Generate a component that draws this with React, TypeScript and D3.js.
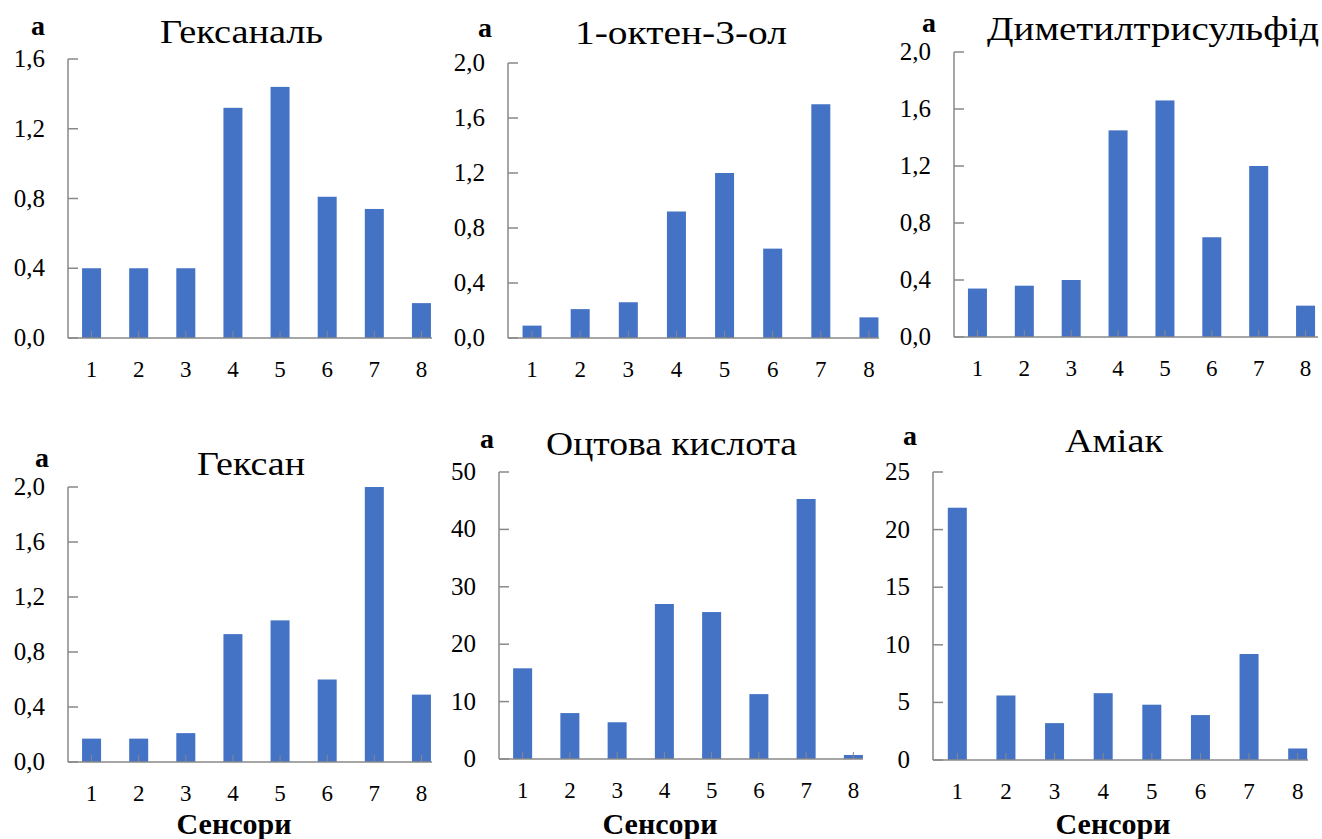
import React from 'react';
import * as d3 from 'd3';

// sensor numbers on the x axis
const sensors = ['1', '2', '3', '4', '5', '6', '7', '8'];

// response values
const hexanal = [0.4, 0.4, 0.4, 1.32, 1.44, 0.81, 0.74, 0.2];
const octenol = [0.09, 0.21, 0.26, 0.92, 1.2, 0.65, 1.7, 0.15];
const dimethylTrisulfide = [0.34, 0.36, 0.4, 1.45, 1.66, 0.7, 1.2, 0.22];
const hexane = [0.17, 0.17, 0.21, 0.93, 1.03, 0.6, 2.0, 0.49];
const aceticAcid = [15.8, 8.0, 6.4, 27.0, 25.6, 11.3, 45.3, 0.7];
const ammonia = [21.9, 5.6, 3.2, 5.8, 4.8, 3.9, 9.2, 1.0];

// y tick values
const ticks16 = [0, 0.4, 0.8, 1.2, 1.6];
const ticks20 = [0, 0.4, 0.8, 1.2, 1.6, 2.0];
const ticks50 = [0, 10, 20, 30, 40, 50];
const ticks25 = [0, 5, 10, 15, 20, 25];

const titles = ['Гексаналь', '1-октен-3-ол', 'Диметилтрисульфід', 'Гексан', 'Оцтова кислота', 'Аміак'];
const panelLetter = 'а';
const xTitle = 'Сенсори';

const BAR = '#4472C4';
const AXIS = '#898989';
const FONT = '"Liberation Serif", "Times New Roman", serif';

const fmtDec = (v: number) => d3.format('.1f')(v).replace('.', ',');
const fmtInt = (v: number) => d3.format('d')(v);

type PanelProps = {
  id: string;
  values: number[];
  ticks: number[];
  fmt: (v: number) => string;
  title: string;
  x0: number;
  bandW: number;
  axisEnd: number;
  yTop: number;
  yBase: number;
  titleX: number;
  titleY: number;
  titleW: number;
  letterX: number;
  letterY: number;
  showXTitle?: boolean;
  xTitleX?: number;
  clipY?: number;
};

const Panel = (p: PanelProps) => {
  const x = d3.scaleBand<string>().domain(sensors).range([p.x0, p.x0 + p.bandW]).paddingInner(0.6).paddingOuter(0.3);
  const y = d3.scaleLinear().domain([0, p.ticks[p.ticks.length - 1]]).range([p.yBase, p.yTop]);
  const bw = 19;

  return (
    <g clipPath={p.clipY ? `url(#row-${p.id})` : undefined}>
      <defs>
        <clipPath id={`bars-${p.id}`}>
          <rect x={p.x0} y={0} width={p.axisEnd - p.x0} height={839} />
        </clipPath>
        {p.clipY ? (
          <clipPath id={`row-${p.id}`}>
            <rect x={0} y={0} width={1322} height={p.clipY} />
          </clipPath>
        ) : null}
      </defs>

      <text x={p.letterX} y={p.letterY} fontFamily={FONT} fontWeight="bold" fontSize={28} fill="#000">
        {panelLetter}
      </text>
      <text
        x={p.titleX}
        y={p.titleY}
        fontFamily={FONT}
        fontSize={34}
        textLength={p.titleW}
        lengthAdjust="spacingAndGlyphs"
        fill="#000"
      >
        {p.title}
      </text>

      <g clipPath={`url(#bars-${p.id})`}>
        {p.values.map((v, i) => {
          const cx = (x(sensors[i]) as number) + x.bandwidth() / 2;
          return <rect key={i} x={cx - bw / 2} y={y(v)} width={bw} height={p.yBase - y(v)} fill={BAR} />;
        })}
      </g>

      {/* y axis with inside ticks */}
      <line x1={p.x0} x2={p.x0} y1={p.yTop} y2={p.yBase} stroke={AXIS} strokeWidth={1.5} />
      {p.ticks.map((t) => (
        <g key={t}>
          <line x1={p.x0} x2={p.x0 + 10} y1={y(t)} y2={y(t)} stroke={AXIS} strokeWidth={1.5} />
          <text x={p.x0 - 23} y={y(t) + 8} textAnchor="end" fontFamily={FONT} fontSize={25} fill="#000">
            {p.fmt(t)}
          </text>
        </g>
      ))}

      {/* x axis */}
      <line x1={p.x0} x2={p.axisEnd} y1={p.yBase} y2={p.yBase} stroke={AXIS} strokeWidth={1.5} />
      {sensors.map((s) => {
        const cx = (x(s) as number) + x.bandwidth() / 2;
        return (
          <g key={s}>
            {cx < p.axisEnd ? (
              <line x1={cx} x2={cx} y1={p.yBase} y2={p.yBase - 7} stroke={AXIS} strokeWidth={1} />
            ) : null}
            <text x={cx} y={p.yBase + 39} textAnchor="middle" fontFamily={FONT} fontSize={23} fill="#000">
              {s}
            </text>
          </g>
        );
      })}

      {p.showXTitle ? (
        <text x={p.xTitleX} y={834} textAnchor="middle" fontFamily={FONT} fontWeight="bold" fontSize={30} fill="#000">
          {xTitle}
        </text>
      ) : null}
    </g>
  );
};

export default function App() {
  return (
    <svg width={1322} height={839} style={{ position: 'absolute', left: 0, top: 0, background: '#fff' }}>
      <rect width={1322} height={839} fill="#fff" />
      <Panel
        id="p1"
        values={hexanal}
        ticks={ticks16}
        fmt={fmtDec}
        title={titles[0]}
        x0={68}
        bandW={377}
        axisEnd={432}
        yTop={59}
        yBase={338}
        titleX={160}
        titleY={43}
        titleW={163}
        letterX={31}
        letterY={35}
        clipY={377}
      />
      <Panel
        id="p2"
        values={octenol}
        ticks={ticks20}
        fmt={fmtDec}
        title={titles[1]}
        x0={508}
        bandW={385}
        axisEnd={879}
        yTop={63}
        yBase={338}
        titleX={575}
        titleY={44}
        titleW={212}
        letterX={478}
        letterY={37}
        clipY={377}
      />
      <Panel
        id="p3"
        values={dimethylTrisulfide}
        ticks={ticks20}
        fmt={fmtDec}
        title={titles[2]}
        x0={954}
        bandW={375}
        axisEnd={1318}
        yTop={52}
        yBase={337}
        titleX={987}
        titleY={40}
        titleW={332}
        letterX={922}
        letterY={32}
        clipY={377}
      />
      <Panel
        id="p4"
        values={hexane}
        ticks={ticks20}
        fmt={fmtDec}
        title={titles[3]}
        x0={68}
        bandW={377}
        axisEnd={432}
        yTop={487}
        yBase={762}
        titleX={197}
        titleY={475}
        titleW={108}
        letterX={35}
        letterY={467}
        showXTitle
        xTitleX={234}
      />
      <Panel
        id="p5"
        values={aceticAcid}
        ticks={ticks50}
        fmt={fmtInt}
        title={titles[4]}
        x0={499}
        bandW={378}
        axisEnd={863}
        yTop={472}
        yBase={759}
        titleX={546}
        titleY={455}
        titleW={251}
        letterX={480}
        letterY={448}
        showXTitle
        xTitleX={660}
      />
      <Panel
        id="p6"
        values={ammonia}
        ticks={ticks25}
        fmt={fmtInt}
        title={titles[5]}
        x0={933}
        bandW={389}
        axisEnd={1308}
        yTop={472}
        yBase={760}
        titleX={1065}
        titleY={452}
        titleW={98}
        letterX={903}
        letterY={445}
        showXTitle
        xTitleX={1113}
      />
    </svg>
  );
}
